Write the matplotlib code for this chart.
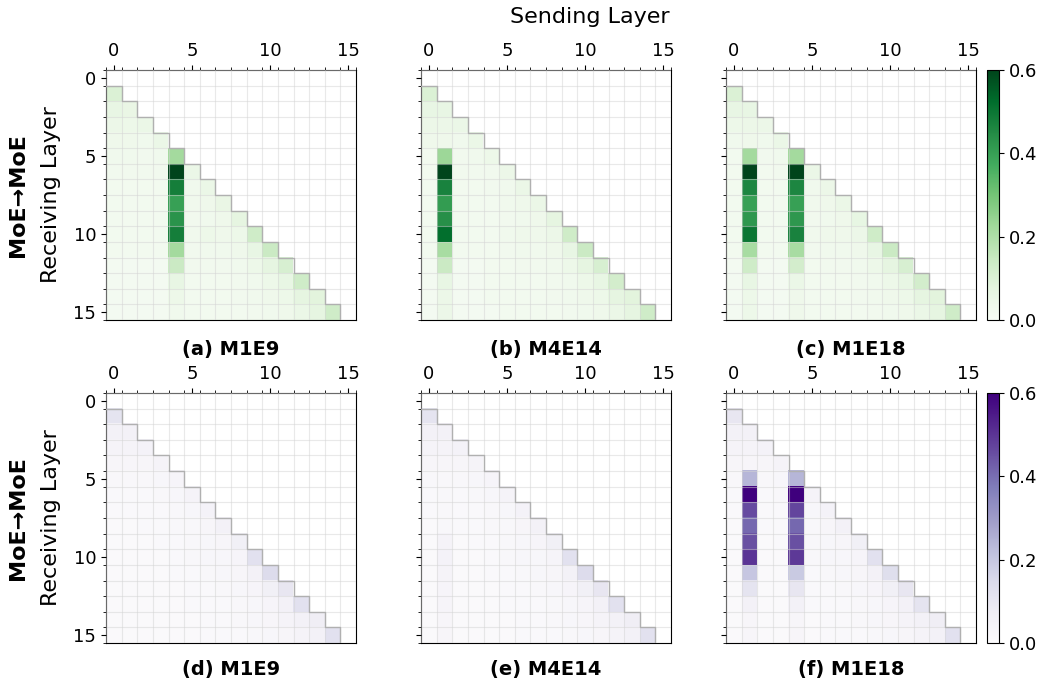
import numpy as np
import matplotlib
matplotlib.use("Agg")
import matplotlib.pyplot as plt

N_LAYERS = 16

col_titles = [["(a) M1E9", "(b) M4E14", "(c) M1E18"],
              ["(d) M1E9", "(e) M4E14", "(f) M1E18"]]
row_names = ["MoE→MoE", "MoE→MoE"]
row_cmaps = ["Greens", "Purples"]
cbar_ticks = [0.0, 0.2, 0.4, 0.6]

# Lower-triangular weights: row r = receiving layer, entries for sending layers 0..r-1
a_rows = [
    [],
    [0.10],
    [0.06, 0.055],
    [0.045, 0.04, 0.05],
    [0.035, 0.035, 0.03, 0.05],
    [0.03, 0.03, 0.025, 0.03, 0.22],
    [0.025, 0.025, 0.025, 0.025, 0.60, 0.05],
    [0.02, 0.02, 0.02, 0.02, 0.48, 0.03, 0.05],
    [0.02, 0.02, 0.02, 0.02, 0.40, 0.03, 0.035, 0.055],
    [0.02, 0.02, 0.02, 0.02, 0.43, 0.025, 0.03, 0.035, 0.07],
    [0.02, 0.02, 0.02, 0.02, 0.48, 0.03, 0.04, 0.035, 0.04, 0.13],
    [0.02, 0.02, 0.02, 0.02, 0.22, 0.025, 0.03, 0.03, 0.035, 0.06, 0.14],
    [0.015, 0.015, 0.015, 0.015, 0.14, 0.025, 0.025, 0.025, 0.03, 0.04, 0.07, 0.11],
    [0.015, 0.015, 0.015, 0.015, 0.06, 0.02, 0.02, 0.02, 0.025, 0.03, 0.04, 0.06, 0.13],
    [0.015, 0.015, 0.015, 0.015, 0.04, 0.02, 0.02, 0.02, 0.025, 0.03, 0.035, 0.04, 0.07, 0.08],
    [0.015, 0.015, 0.015, 0.015, 0.03, 0.02, 0.02, 0.02, 0.02, 0.025, 0.03, 0.035, 0.05, 0.07, 0.13],
]

b_rows = [
    [],
    [0.10],
    [0.06, 0.06],
    [0.045, 0.045, 0.05],
    [0.035, 0.035, 0.03, 0.05],
    [0.02, 0.23, 0.025, 0.03, 0.04],
    [0.02, 0.60, 0.025, 0.025, 0.025, 0.045],
    [0.02, 0.47, 0.02, 0.02, 0.025, 0.03, 0.05],
    [0.02, 0.41, 0.02, 0.02, 0.02, 0.03, 0.035, 0.05],
    [0.02, 0.44, 0.02, 0.02, 0.02, 0.025, 0.03, 0.035, 0.07],
    [0.02, 0.52, 0.02, 0.02, 0.02, 0.03, 0.035, 0.035, 0.045, 0.13],
    [0.02, 0.21, 0.02, 0.02, 0.02, 0.025, 0.03, 0.03, 0.035, 0.06, 0.14],
    [0.015, 0.14, 0.015, 0.015, 0.02, 0.02, 0.025, 0.025, 0.03, 0.04, 0.07, 0.11],
    [0.015, 0.06, 0.015, 0.015, 0.02, 0.02, 0.02, 0.02, 0.025, 0.03, 0.04, 0.06, 0.12],
    [0.015, 0.045, 0.015, 0.015, 0.02, 0.02, 0.02, 0.02, 0.025, 0.03, 0.035, 0.04, 0.07, 0.08],
    [0.015, 0.045, 0.015, 0.015, 0.015, 0.02, 0.02, 0.02, 0.02, 0.025, 0.03, 0.035, 0.05, 0.07, 0.13],
]

c_rows = [
    [],
    [0.10],
    [0.06, 0.06],
    [0.04, 0.045, 0.045],
    [0.03, 0.035, 0.03, 0.05],
    [0.02, 0.22, 0.025, 0.03, 0.22],
    [0.02, 0.60, 0.02, 0.025, 0.60, 0.05],
    [0.02, 0.46, 0.02, 0.02, 0.46, 0.03, 0.045],
    [0.02, 0.40, 0.02, 0.02, 0.40, 0.03, 0.035, 0.05],
    [0.02, 0.42, 0.02, 0.02, 0.42, 0.025, 0.03, 0.035, 0.065],
    [0.02, 0.50, 0.02, 0.02, 0.47, 0.03, 0.035, 0.035, 0.045, 0.13],
    [0.02, 0.21, 0.02, 0.02, 0.21, 0.025, 0.03, 0.03, 0.035, 0.06, 0.14],
    [0.015, 0.13, 0.015, 0.015, 0.12, 0.02, 0.025, 0.025, 0.03, 0.04, 0.07, 0.11],
    [0.015, 0.06, 0.015, 0.015, 0.05, 0.02, 0.02, 0.02, 0.025, 0.03, 0.04, 0.06, 0.12],
    [0.015, 0.04, 0.015, 0.015, 0.035, 0.02, 0.02, 0.02, 0.025, 0.03, 0.035, 0.04, 0.07, 0.08],
    [0.015, 0.04, 0.015, 0.015, 0.035, 0.02, 0.02, 0.02, 0.02, 0.025, 0.03, 0.035, 0.05, 0.07, 0.13],
]

d_rows = [
    [],
    [0.11],
    [0.05, 0.05],
    [0.04, 0.04, 0.045],
    [0.03, 0.03, 0.03, 0.04],
    [0.02, 0.02, 0.02, 0.025, 0.035],
    [0.015, 0.015, 0.015, 0.02, 0.025, 0.04],
    [0.015, 0.015, 0.015, 0.015, 0.02, 0.025, 0.045],
    [0.01, 0.01, 0.015, 0.015, 0.02, 0.02, 0.03, 0.05],
    [0.01, 0.01, 0.01, 0.015, 0.015, 0.02, 0.025, 0.03, 0.06],
    [0.01, 0.01, 0.01, 0.01, 0.015, 0.02, 0.025, 0.025, 0.035, 0.12],
    [0.01, 0.01, 0.01, 0.01, 0.015, 0.015, 0.02, 0.025, 0.03, 0.05, 0.14],
    [0.01, 0.01, 0.01, 0.01, 0.01, 0.015, 0.015, 0.02, 0.025, 0.035, 0.06, 0.10],
    [0.01, 0.01, 0.01, 0.01, 0.01, 0.015, 0.015, 0.015, 0.02, 0.025, 0.035, 0.05, 0.12],
    [0.01, 0.01, 0.01, 0.01, 0.01, 0.01, 0.015, 0.015, 0.02, 0.025, 0.03, 0.04, 0.05, 0.07],
    [0.01, 0.01, 0.01, 0.01, 0.01, 0.01, 0.015, 0.015, 0.015, 0.02, 0.025, 0.03, 0.04, 0.05, 0.12],
]

e_rows = [
    [],
    [0.11],
    [0.05, 0.05],
    [0.04, 0.04, 0.045],
    [0.03, 0.03, 0.03, 0.04],
    [0.02, 0.02, 0.02, 0.025, 0.035],
    [0.015, 0.02, 0.015, 0.02, 0.025, 0.04],
    [0.015, 0.02, 0.015, 0.015, 0.02, 0.025, 0.045],
    [0.01, 0.02, 0.015, 0.015, 0.02, 0.02, 0.03, 0.05],
    [0.01, 0.04, 0.01, 0.015, 0.015, 0.02, 0.025, 0.035, 0.06],
    [0.01, 0.045, 0.01, 0.01, 0.015, 0.02, 0.025, 0.025, 0.035, 0.12],
    [0.01, 0.04, 0.01, 0.01, 0.015, 0.015, 0.02, 0.025, 0.03, 0.05, 0.14],
    [0.01, 0.035, 0.01, 0.01, 0.01, 0.015, 0.015, 0.02, 0.025, 0.035, 0.06, 0.10],
    [0.01, 0.035, 0.01, 0.01, 0.01, 0.015, 0.015, 0.015, 0.02, 0.025, 0.035, 0.05, 0.12],
    [0.01, 0.03, 0.01, 0.01, 0.01, 0.01, 0.015, 0.015, 0.02, 0.025, 0.03, 0.04, 0.05, 0.07],
    [0.01, 0.03, 0.01, 0.01, 0.01, 0.01, 0.015, 0.015, 0.015, 0.02, 0.025, 0.03, 0.04, 0.05, 0.12],
]

f_rows = [
    [],
    [0.10],
    [0.05, 0.05],
    [0.04, 0.04, 0.045],
    [0.03, 0.03, 0.03, 0.04],
    [0.02, 0.24, 0.02, 0.025, 0.24],
    [0.015, 0.60, 0.015, 0.02, 0.60, 0.04],
    [0.015, 0.46, 0.015, 0.015, 0.47, 0.025, 0.045],
    [0.01, 0.41, 0.015, 0.015, 0.41, 0.02, 0.03, 0.05],
    [0.01, 0.45, 0.01, 0.015, 0.45, 0.02, 0.025, 0.03, 0.06],
    [0.01, 0.50, 0.01, 0.01, 0.49, 0.02, 0.025, 0.025, 0.035, 0.12],
    [0.01, 0.20, 0.01, 0.01, 0.19, 0.015, 0.02, 0.025, 0.03, 0.05, 0.13],
    [0.01, 0.11, 0.01, 0.01, 0.10, 0.015, 0.015, 0.02, 0.025, 0.035, 0.06, 0.10],
    [0.01, 0.05, 0.01, 0.01, 0.05, 0.015, 0.015, 0.015, 0.02, 0.025, 0.035, 0.05, 0.11],
    [0.01, 0.03, 0.01, 0.01, 0.03, 0.01, 0.015, 0.015, 0.02, 0.025, 0.03, 0.04, 0.05, 0.07],
    [0.01, 0.03, 0.01, 0.01, 0.03, 0.01, 0.015, 0.015, 0.015, 0.02, 0.025, 0.03, 0.04, 0.05, 0.12],
]

panel_rows = [[a_rows, b_rows, c_rows], [d_rows, e_rows, f_rows]]


def to_matrix(rows):
    m = np.full((N_LAYERS, N_LAYERS), np.nan)
    for r, vals in enumerate(rows):
        if vals:
            m[r, :len(vals)] = vals
    return m


W, H = 1042, 679
fig = plt.figure(figsize=(W / 100, H / 100), dpi=100)

col_left = [106, 421, 726]
row_top = [70, 393]
ax_w, ax_h = 250, 250

# staircase outline of the lower triangle
stair_x = [-0.5]
stair_y = [0.5]
for k in range(N_LAYERS - 1):
    stair_x += [k + 0.5, k + 0.5]
    stair_y += [k + 0.5, k + 1.5]

for i in range(2):
    cmap = plt.get_cmap(row_cmaps[i]).copy()
    cmap.set_bad("white")
    im = None
    for j in range(3):
        rect = [col_left[j] / W, 1 - (row_top[i] + ax_h) / H, ax_w / W, ax_h / H]
        ax = fig.add_axes(rect)
        mat = to_matrix(panel_rows[i][j])
        im = ax.imshow(np.ma.masked_invalid(mat), cmap=cmap, vmin=0, vmax=0.6,
                       aspect="auto", interpolation="nearest", zorder=1)
        ax.set_xlim(-0.5, N_LAYERS - 0.5)
        ax.set_ylim(N_LAYERS - 0.5, -0.5)
        ax.set_xticks([0, 5, 10, 15])
        ax.set_yticks([0, 5, 10, 15])
        ax.set_xticks(np.arange(-0.5, N_LAYERS, 1), minor=True)
        ax.set_yticks(np.arange(-0.5, N_LAYERS, 1), minor=True)
        ax.xaxis.tick_top()
        ax.tick_params(which="both", top=True, bottom=False, labeltop=True,
                       labelbottom=False, labelsize=13)
        if j > 0:
            ax.set_yticklabels([])
        ax.grid(which="minor", color="#d4d4d4", linewidth=0.8, alpha=0.5, zorder=2)
        ax.grid(which="major", visible=False)
        ax.set_axisbelow(False)
        ax.plot(stair_x, stair_y, color="#b0b0b0", linewidth=1.0, zorder=3)
        cx = (col_left[j] + ax_w / 2) / W
        ty = 350 if i == 0 else 670
        fig.text(cx, 1 - ty / H, col_titles[i][j], ha="center", va="center",
                 fontsize=14, fontweight="bold")

    cax = fig.add_axes([987 / W, 1 - (row_top[i] + ax_h) / H, 12 / W, ax_h / H])
    cb = fig.colorbar(im, cax=cax, ticks=cbar_ticks)
    cb.ax.set_yticklabels([f"{t:.1f}" for t in cbar_ticks])
    cb.ax.tick_params(labelsize=13)

    yc = 1 - (row_top[i] + ax_h / 2) / H
    fig.text(51 / W, yc, "Receiving Layer", rotation=90, ha="center", va="center",
             fontsize=16)
    fig.text(18 / W, yc, row_names[i], rotation=90, ha="center", va="center",
             fontsize=16, fontweight="bold")

fig.text(589.5 / W, 1 - 17 / H, "Sending Layer", ha="center", va="center", fontsize=16)

fig.savefig("out.png", dpi=100)
